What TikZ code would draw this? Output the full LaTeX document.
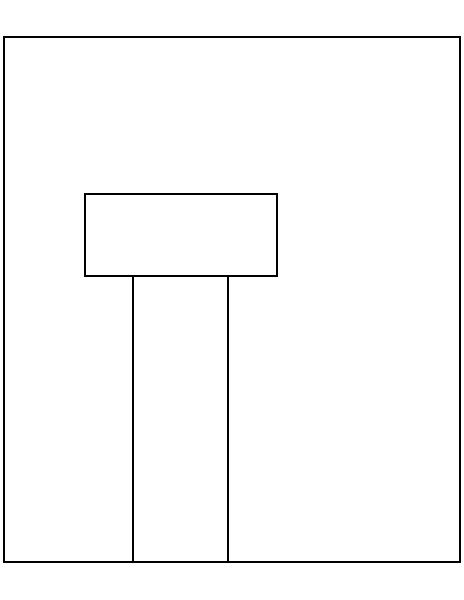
\documentclass[tikz,border=0pt]{standalone}
\begin{document}
\begin{tikzpicture}[x=0.02cm, y=-0.02cm, line width=0.7pt]
            \useasboundingbox (0,0) rectangle (464,600);

            % Draw the outer frame
            \draw (4,37) rectangle (460,562);

            % Draw the top block
            \draw (85,194) rectangle (277,276);

            % Draw the stem down to the frame
            \draw (133,276) -- (133,562);
            \draw (228,276) -- (228,562);

\end{tikzpicture}
\end{document}
